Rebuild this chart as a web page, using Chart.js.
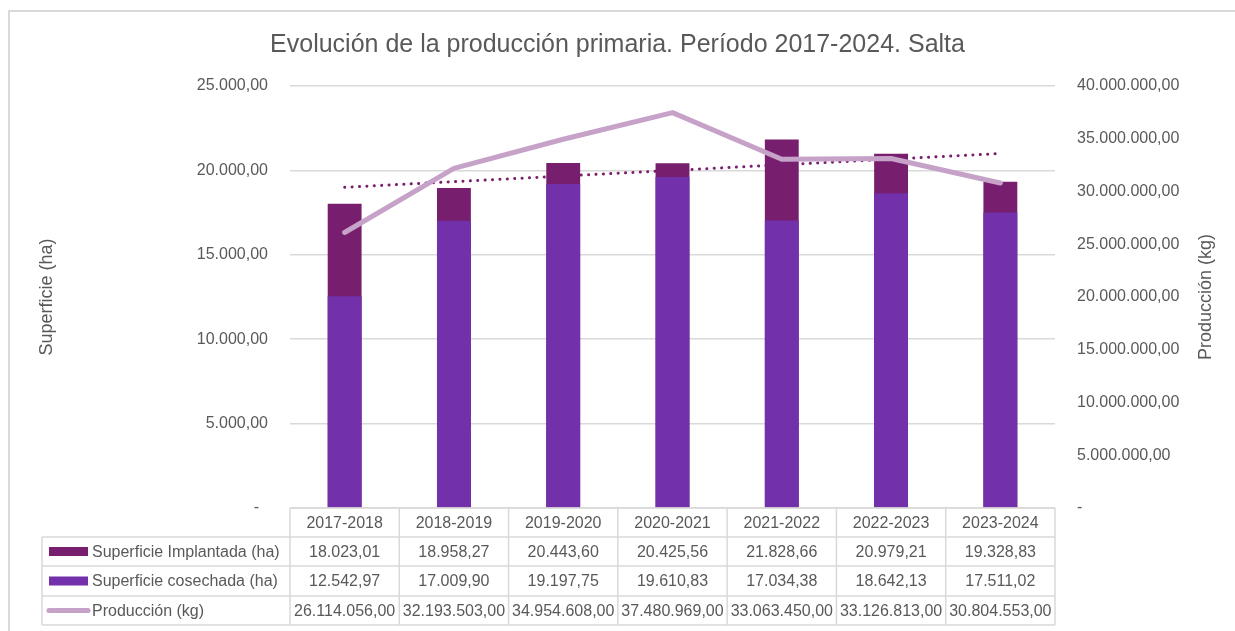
<!DOCTYPE html>
<html lang="es">
<head>
<meta charset="utf-8">
<title>Evolución de la producción primaria</title>
<script src="https://cdn.jsdelivr.net/npm/chart.js@4"></script>
<style>
  html, body { margin: 0; padding: 0; background: #fff; }
  #caja { position: relative; width: 1235px; height: 631px; }
</style>
</head>
<body>
<div id="caja"><canvas id="grafico"></canvas></div>
<script>
const campanias = ["2017-2018", "2018-2019", "2019-2020", "2020-2021", "2021-2022", "2022-2023", "2023-2024"];
const implantada = [18023.01, 18958.27, 20443.60, 20425.56, 21828.66, 20979.21, 19328.83];
const cosechada = [12542.97, 17009.90, 19197.75, 19610.83, 17034.38, 18642.13, 17511.02];
const produccion = [26114056, 32193503, 34954608, 37480969, 33063450, 33126813, 30804553];
// tendencia lineal (Superficie Implantada): solo extremos
const tendencia = [19000, null, null, null, null, null, 21000];

const colImplantada = "#781E6E";
const colCosechada = "#7230AA";
const colProduccion = "#C6A2C9";
const gris = "#595959";
const linea = "#D9D9D9";
const fuente = "'Liberation Sans', Arial, sans-serif";

function fmt(v) {
  const partes = v.toFixed(2).split(".");
  return partes[0].replace(/\B(?=(\d{3})+(?!\d))/g, ".") + "," + partes[1];
}

// Dibuja borde, títulos de ejes y la tabla de datos
const tablaPlugin = {
  id: "tabla",
  beforeDraw(chart) {
    const ctx = chart.ctx;
    ctx.save();
    ctx.strokeStyle = linea;
    ctx.lineWidth = 2;
    ctx.strokeRect(9, 11, 1400, 800);
    ctx.restore();
  },
  afterDraw(chart) {
    const ctx = chart.ctx;
    const x = chart.scales.x;
    const area = chart.chartArea;
    const ancho = (area.right - area.left) / campanias.length;
    const filas = [508, 537, 566, 596, 625];
    const izq = 42;

    ctx.save();
    // títulos de ejes
    ctx.fillStyle = gris;
    ctx.font = "18px " + fuente;
    ctx.textAlign = "center";
    ctx.textBaseline = "middle";
    [[47, "Superficie (ha)"], [1206, "Producción (kg)"]].forEach(([px, t]) => {
      ctx.save();
      ctx.translate(px, 297);
      ctx.rotate(-Math.PI / 2);
      ctx.fillText(t, 0, 0);
      ctx.restore();
    });

    // líneas de la tabla
    ctx.strokeStyle = linea;
    ctx.lineWidth = 1.5;
    ctx.beginPath();
    ctx.moveTo(area.left, filas[0]);
    ctx.lineTo(area.right, filas[0]);
    for (let i = 1; i < filas.length; i++) {
      ctx.moveTo(izq, filas[i]);
      ctx.lineTo(area.right, filas[i]);
    }
    ctx.moveTo(izq, filas[1]);
    ctx.lineTo(izq, filas[4]);
    for (let i = 0; i <= campanias.length; i++) {
      const px = area.left + i * ancho;
      ctx.moveTo(px, filas[0]);
      ctx.lineTo(px, filas[4]);
    }
    ctx.stroke();

    // textos
    ctx.font = "16px " + fuente;
    ctx.fillStyle = gris;
    ctx.textAlign = "center";
    const filasDatos = [implantada, cosechada, produccion];
    campanias.forEach((c, i) => {
      const cx = x.getPixelForValue(i);
      ctx.fillText(c, cx, (filas[0] + filas[1]) / 2 + 1);
      filasDatos.forEach((serie, f) => {
        ctx.fillText(fmt(serie[i]), cx, (filas[f + 1] + filas[f + 2]) / 2 + 1);
      });
    });

    // leyenda dentro de la tabla
    const nombres = ["Superficie Implantada (ha)", "Superficie cosechada (ha)", "Producción (kg)"];
    nombres.forEach((n, f) => {
      const cy = (filas[f + 1] + filas[f + 2]) / 2;
      if (f < 2) {
        ctx.fillStyle = f === 0 ? colImplantada : colCosechada;
        ctx.fillRect(49, cy - 4.5, 39, 9);
      } else {
        ctx.strokeStyle = colProduccion;
        ctx.lineWidth = 5;
        ctx.lineCap = "round";
        ctx.beginPath();
        ctx.moveTo(49, cy);
        ctx.lineTo(88, cy);
        ctx.stroke();
      }
      ctx.fillStyle = gris;
      ctx.textAlign = "left";
      ctx.fillText(n, 92, cy + 1);
    });
    ctx.restore();
  }
};

new Chart(document.getElementById("grafico"), {
  data: {
    labels: campanias,
    datasets: [
      {
        type: "line",
        label: "Producción (kg)",
        data: produccion,
        yAxisID: "y2",
        borderColor: colProduccion,
        borderWidth: 5,
        borderCapStyle: "round",
        borderJoinStyle: "round",
        pointRadius: 0,
        tension: 0,
        order: 0
      },
      {
        type: "bar",
        label: "Superficie cosechada (ha)",
        data: cosechada,
        yAxisID: "y",
        backgroundColor: colCosechada,
        grouped: false,
        barPercentage: 0.31,
        categoryPercentage: 1,
        order: 1
      },
      {
        type: "bar",
        label: "Superficie Implantada (ha)",
        data: implantada,
        yAxisID: "y",
        backgroundColor: colImplantada,
        grouped: false,
        barPercentage: 0.31,
        categoryPercentage: 1,
        order: 2
      },
      {
        type: "line",
        label: "Lineal (Superficie Implantada (ha))",
        data: tendencia,
        yAxisID: "y",
        spanGaps: true,
        borderColor: colImplantada,
        borderWidth: 3,
        borderCapStyle: "round",
        borderDash: [0.1, 7.3],
        pointRadius: 0,
        order: 3
      }
    ]
  },
  options: {
    responsive: true,
    maintainAspectRatio: false,
    animation: false,
    layout: { padding: { top: 0, left: 0, right: 0, bottom: 123 } },
    plugins: {
      legend: { display: false },
      tooltip: { enabled: false },
      title: {
        display: true,
        text: "Evolución de la producción primaria. Período 2017-2024. Salta",
        color: gris,
        font: { family: fuente, size: 25, weight: "normal", lineHeight: 1.2 },
        padding: { top: 30, bottom: 26 }
      }
    },
    scales: {
      x: { display: false, offset: true },
      y: {
        position: "left",
        min: 0,
        max: 25000,
        ticks: {
          stepSize: 5000,
          padding: 22,
          color: gris,
          font: { family: fuente, size: 16 },
          callback: v => v === 0 ? "-  " : fmt(v)
        },
        grid: { color: linea, lineWidth: 1.5, drawTicks: false },
        border: { display: false },
        afterFit: s => { s.width = 290; }
      },
      y2: {
        position: "right",
        min: 0,
        max: 40000000,
        ticks: {
          stepSize: 5000000,
          padding: 22,
          color: gris,
          font: { family: fuente, size: 16 },
          callback: v => v === 0 ? "-" : fmt(v)
        },
        grid: { display: false, drawTicks: false },
        border: { display: false },
        afterFit: s => { s.width = 180; }
      }
    }
  },
  plugins: [tablaPlugin]
});
</script>
</body>
</html>
